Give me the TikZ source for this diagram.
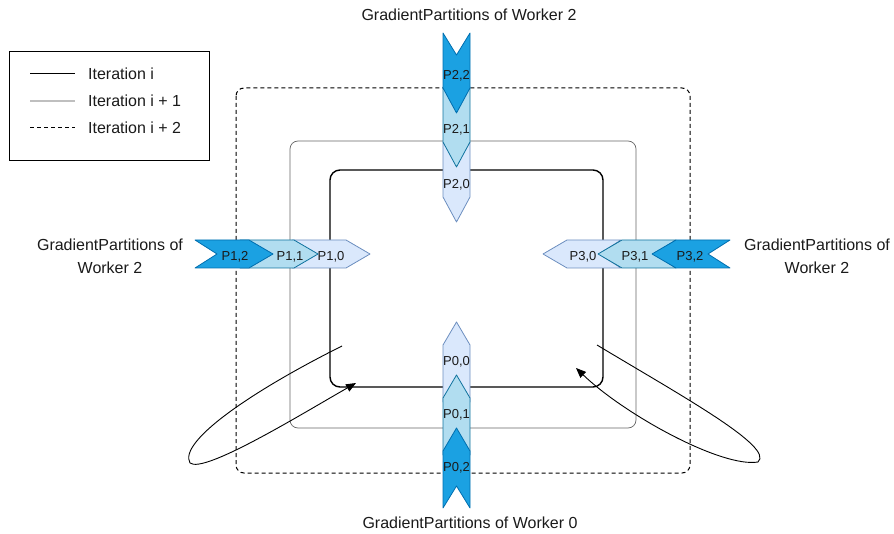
\documentclass[tikz,border=0pt]{standalone}
\usepackage{fontspec}
\setmainfont{Liberation Sans}
\usetikzlibrary{arrows.meta}
\definecolor{darkfill}{HTML}{1BA1E2}
\definecolor{darkline}{HTML}{006EAF}
\definecolor{midfill}{HTML}{B1DDF0}
\definecolor{midline}{HTML}{10739E}
\definecolor{lightfill}{HTML}{DAE8FC}
\definecolor{lightline}{HTML}{6C8EBF}
\definecolor{txt}{HTML}{1A1A1A}
\tikzset{
  partdark/.style={fill=darkfill,draw=darkline,line width=0.8pt,line join=round},
  partmid/.style={fill=midfill,draw=midline,line width=0.8pt,line join=round},
  partlight/.style={fill=lightfill,draw=lightline,line width=0.8pt,line join=round},
  plabel/.style={inner sep=0pt,text=txt,font=\fontsize{13}{15}\selectfont},
  caption/.style={inner sep=0pt,text=txt,align=center,font=\fontsize{16}{23}\selectfont},
  legendtext/.style={inner sep=0pt,anchor=west,text=txt,font=\fontsize{16}{18}\selectfont},
  iterA/.style={draw=black,line width=1.4pt,rounded corners=10pt},
  iterB/.style={draw=black!60,line width=0.7pt,rounded corners=8pt},
  iterC/.style={draw=black,line width=1pt,dash pattern=on 4pt off 3pt,rounded corners=8pt},
  loopline/.style={draw=black,line width=0.9pt,-{Triangle[length=10pt,width=8pt]}},
}
% chevron pointing down: style, top y, name, label
\newcommand\chevdown[4]{%
  \draw[#1] (443,#2) -- (456.5,#2+22) -- (470,#2) -- (470,#2+55) -- (456.5,#2+80) -- (443,#2+55) -- cycle;
  \node[plabel] (#3) at (456.5,#2+43) {#4};}
% chevron pointing up: style, tip y, name, label
\newcommand\chevup[4]{%
  \draw[#1] (456.5,#2) -- (470,#2+23) -- (470,#2+80) -- (456.5,#2+58) -- (443,#2+80) -- (443,#2+23) -- cycle;
  \node[plabel] (#3) at (456.5,#2+40) {#4};}
% chevron pointing right: style, left x, name, label, label x
\newcommand\chevright[5]{%
  \draw[#1] (#2,240) -- (#2+54,240) -- (#2+78,254) -- (#2+54,268) -- (#2,268) -- (#2+22,254) -- cycle;
  \node[plabel] (#3) at (#5,257) {#4};}
% chevron pointing left: style, tip x, name, label, label x
\newcommand\chevleft[5]{%
  \draw[#1] (#2,254) -- (#2+24,240) -- (#2+78,240) -- (#2+56,254) -- (#2+78,268) -- (#2+24,268) -- cycle;
  \node[plabel] (#3) at (#5,257) {#4};}
\begin{document}
\begin{tikzpicture}[x=1pt,y=-1pt]
\useasboundingbox (0,0) rectangle (894,534);

% legend
\draw[line width=1pt] (9,52) rectangle (209,161);
\coordinate (la1) at (30,74);  \coordinate (la2) at (75,74);
\coordinate (lb1) at (30,101); \coordinate (lb2) at (75,101);
\coordinate (lc1) at (30,128); \coordinate (lc2) at (75,128);
\draw[black,line width=1pt] (la1) -- (la2);
\draw[black!25,line width=2pt] (lb1) -- (lb2);
\draw[black,line width=1pt,dash pattern=on 4pt off 3pt] (lc1) -- (lc2);
\node[legendtext] (legA) at (88,74) {Iteration i};
\node[legendtext] (legB) at (88,101) {Iteration i + 1};
\node[legendtext] (legC) at (88,128) {Iteration i + 2};

% rings of the three iterations
\draw[iterC] (236,88) rectangle (690,473);
\draw[iterB] (290,141) rectangle (636,428);
\draw[iterA] (330,170) rectangle (603,387);

% worker 2 (top)
\chevdown{partlight}{142}{p20}{P2,0}
\chevdown{partmid}{87}{p21}{P2,1}
\chevdown{partdark}{33}{p22}{P2,2}

% worker 0 (bottom)
\chevup{partlight}{322}{p00}{P0,0}
\chevup{partmid}{375}{p01}{P0,1}
\chevup{partdark}{428}{p02}{P0,2}

% worker 1 (left)
\chevright{partlight}{292}{p10}{P1,0}{331}
\chevright{partmid}{240}{p11}{P1,1}{290}
\chevright{partdark}{195}{p12}{P1,2}{235}

% worker 3 (right)
\chevleft{partlight}{543}{p30}{P3,0}{583}
\chevleft{partmid}{598}{p31}{P3,1}{635}
\chevleft{partdark}{652}{p32}{P3,2}{690}

% captions
\node[caption] (capT) at (469,15) {GradientPartitions of Worker 2};
\node[caption] (capB) at (470,523) {GradientPartitions of Worker 0};
\node[caption] (capL) at (110,256) {GradientPartitions of\\Worker 2};
\node[caption] (capR) at (817,256) {GradientPartitions of\\Worker 2};

% loops between iterations
\coordinate (lsA) at (342,346);
\coordinate (lsB) at (190,463);
\coordinate (lsC) at (356,383);
\draw[loopline] (lsA) .. controls (250,392) and (178,442) .. (lsB)
                      .. controls (204,474) and (300,415) .. (lsC);
\coordinate (rsA) at (597,345);
\coordinate (rsB) at (758,462);
\coordinate (rsC) at (576,368);
\draw[loopline] (rsA) .. controls (680,395) and (775,447) .. (rsB)
                      .. controls (722,468) and (625,415) .. (rsC);
\end{tikzpicture}
\end{document}
